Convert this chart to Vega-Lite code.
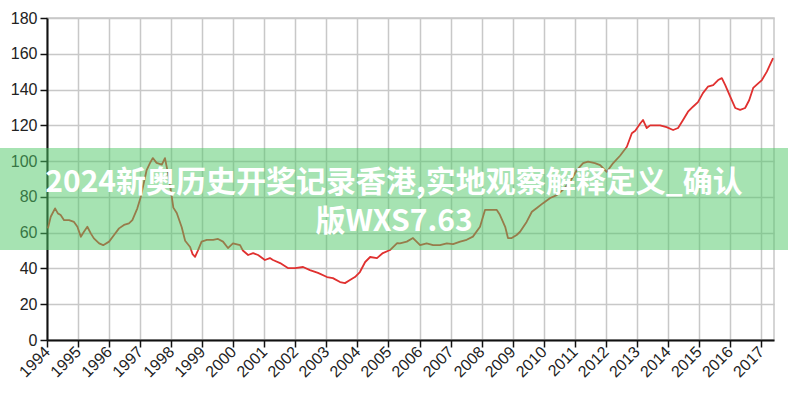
{
  "$schema": "https://vega.github.io/schema/vega-lite/v6.json",
  "width": 727,
  "height": 322,
  "autosize": {"type": "none"},
  "padding": {"left": 47, "top": 18, "right": 14, "bottom": 60},
  "background": "white",
  "config": {
    "view": {"stroke": "#c8c8c8", "strokeWidth": 1.5},
    "font": "Liberation Sans",
    "axis": {
      "gridColor": "#c8c8c8",
      "gridWidth": 1.5,
      "domainColor": "#111",
      "domainWidth": 2,
      "tickColor": "#111",
      "tickWidth": 1.5,
      "tickSize": 7,
      "labelColor": "#222",
      "labelFontSize": 15,
      "title": null
    }
  },
  "datasets": {
    "ccl": [
      {"t": 1994.03, "v": 62.4}, {"t": 1994.12, "v": 68.9}, {"t": 1994.26, "v": 73.6}, {"t": 1994.35, "v": 70.8},
      {"t": 1994.44, "v": 69.9}, {"t": 1994.55, "v": 67}, {"t": 1994.71, "v": 67}, {"t": 1994.87, "v": 66},
      {"t": 1994.98, "v": 63.3}, {"t": 1995.09, "v": 57.7}, {"t": 1995.19, "v": 60.5}, {"t": 1995.30, "v": 63.3},
      {"t": 1995.41, "v": 59.6}, {"t": 1995.51, "v": 56.8}, {"t": 1995.68, "v": 54}, {"t": 1995.81, "v": 53},
      {"t": 1996.00, "v": 55}, {"t": 1996.16, "v": 58.7}, {"t": 1996.32, "v": 62.4}, {"t": 1996.48, "v": 64.3},
      {"t": 1996.64, "v": 65.2}, {"t": 1996.75, "v": 67}, {"t": 1996.91, "v": 73.6}, {"t": 1997.02, "v": 80},
      {"t": 1997.21, "v": 95}, {"t": 1997.32, "v": 99}, {"t": 1997.41, "v": 101.7}, {"t": 1997.53, "v": 99},
      {"t": 1997.70, "v": 98}, {"t": 1997.80, "v": 101.7}, {"t": 1997.90, "v": 93}, {"t": 1998.02, "v": 80},
      {"t": 1998.07, "v": 74}, {"t": 1998.18, "v": 71}, {"t": 1998.34, "v": 63}, {"t": 1998.45, "v": 55.5},
      {"t": 1998.61, "v": 52}, {"t": 1998.69, "v": 48}, {"t": 1998.77, "v": 46.5}, {"t": 1998.86, "v": 50},
      {"t": 1998.98, "v": 55}, {"t": 1999.15, "v": 56}, {"t": 1999.35, "v": 56}, {"t": 1999.51, "v": 56.5},
      {"t": 1999.67, "v": 55}, {"t": 1999.83, "v": 51.4}, {"t": 1999.99, "v": 54}, {"t": 2000.22, "v": 53},
      {"t": 2000.31, "v": 50}, {"t": 2000.48, "v": 47.5}, {"t": 2000.64, "v": 48.6}, {"t": 2000.80, "v": 47.5},
      {"t": 2001.02, "v": 44.7}, {"t": 2001.18, "v": 45.8}, {"t": 2001.28, "v": 44.7}, {"t": 2001.51, "v": 43},
      {"t": 2001.76, "v": 40.2}, {"t": 2001.99, "v": 40.2}, {"t": 2002.25, "v": 40.8}, {"t": 2002.47, "v": 39.1},
      {"t": 2002.73, "v": 37.5}, {"t": 2003.02, "v": 35.2}, {"t": 2003.21, "v": 34.6}, {"t": 2003.44, "v": 32.4},
      {"t": 2003.60, "v": 31.8}, {"t": 2003.76, "v": 33.5}, {"t": 2003.92, "v": 35.2}, {"t": 2004.08, "v": 38},
      {"t": 2004.25, "v": 43.6}, {"t": 2004.41, "v": 46.4}, {"t": 2004.63, "v": 45.8}, {"t": 2004.82, "v": 48.6},
      {"t": 2005.05, "v": 50.3}, {"t": 2005.28, "v": 54.2}, {"t": 2005.37, "v": 54}, {"t": 2005.59, "v": 55},
      {"t": 2005.79, "v": 57}, {"t": 2006.02, "v": 53}, {"t": 2006.23, "v": 54}, {"t": 2006.44, "v": 53},
      {"t": 2006.66, "v": 53}, {"t": 2006.88, "v": 54}, {"t": 2007.08, "v": 53.6}, {"t": 2007.31, "v": 55},
      {"t": 2007.52, "v": 56}, {"t": 2007.72, "v": 57.8}, {"t": 2007.95, "v": 63.3}, {"t": 2008.11, "v": 72.7},
      {"t": 2008.27, "v": 72.7}, {"t": 2008.49, "v": 72.7}, {"t": 2008.59, "v": 70}, {"t": 2008.76, "v": 63.3},
      {"t": 2008.85, "v": 57}, {"t": 2008.97, "v": 57}, {"t": 2009.13, "v": 58.7}, {"t": 2009.24, "v": 60.5},
      {"t": 2009.45, "v": 66}, {"t": 2009.62, "v": 71.7}, {"t": 2009.78, "v": 73.8}, {"t": 2009.98, "v": 76.5},
      {"t": 2010.21, "v": 79.4}, {"t": 2010.42, "v": 81}, {"t": 2010.62, "v": 84}, {"t": 2010.85, "v": 88.5},
      {"t": 2011.07, "v": 95}, {"t": 2011.27, "v": 98.9}, {"t": 2011.43, "v": 99.7}, {"t": 2011.65, "v": 98.9},
      {"t": 2011.82, "v": 97.8}, {"t": 2012.03, "v": 94}, {"t": 2012.24, "v": 98.9}, {"t": 2012.46, "v": 103},
      {"t": 2012.68, "v": 108}, {"t": 2012.84, "v": 115.6}, {"t": 2012.95, "v": 117}, {"t": 2013.11, "v": 121},
      {"t": 2013.20, "v": 123}, {"t": 2013.32, "v": 118.5}, {"t": 2013.43, "v": 120}, {"t": 2013.59, "v": 120},
      {"t": 2013.75, "v": 120}, {"t": 2013.96, "v": 119}, {"t": 2014.17, "v": 117.4}, {"t": 2014.33, "v": 118.5},
      {"t": 2014.49, "v": 123}, {"t": 2014.65, "v": 127.6}, {"t": 2014.81, "v": 130.4}, {"t": 2014.97, "v": 133},
      {"t": 2015.13, "v": 138}, {"t": 2015.29, "v": 141.6}, {"t": 2015.46, "v": 142.5}, {"t": 2015.62, "v": 145.3},
      {"t": 2015.74, "v": 146.4}, {"t": 2015.85, "v": 142.5}, {"t": 2016.01, "v": 136}, {"t": 2016.17, "v": 129.7},
      {"t": 2016.33, "v": 128.6}, {"t": 2016.49, "v": 129.7}, {"t": 2016.62, "v": 134}, {"t": 2016.75, "v": 140.9},
      {"t": 2016.92, "v": 143.6}, {"t": 2017.03, "v": 145.3}, {"t": 2017.19, "v": 150}, {"t": 2017.39, "v": 157.6}
    ],
    "banner": [
      {"x0": 1992.45, "x1": 2017.9, "y0": 107.3, "y1": 50.3, "xc": 2005.18, "yc": 87.8}
    ]
  },
  "layer": [
    {
      "data": {"name": "ccl"},
      "mark": {"type": "line", "color": "#e0302f", "strokeWidth": 1.8, "strokeJoin": "round"},
      "encoding": {
        "x": {
          "field": "t", "type": "quantitative",
          "scale": {"domain": [1994, 2017.42], "nice": false, "zero": false},
          "axis": {
            "values": [1994,1995,1996,1997,1998,1999,2000,2001,2002,2003,2004,2005,2006,2007,2008,2009,2010,2011,2012,2013,2014,2015,2016,2017],
            "tickCount": 24,
            "format": "d", "labelAngle": -45, "labelAlign": "right", "labelBaseline": "middle",
            "labelFontSize": 16,
            "labelPadding": 2, "labelFlush": false, "labelOverlap": false
          }
        },
        "y": {
          "field": "v", "type": "quantitative",
          "scale": {"domain": [0, 180], "nice": false},
          "axis": {"values": [0,20,40,60,80,100,120,140,160,180], "tickCount": 10, "labelOverlap": false, "labelPadding": 3, "labelFontSize": 16}
        }
      }
    },
    {
      "data": {"name": "banner"},
      "mark": {"type": "rect", "fill": "#4dc866", "opacity": 0.5, "clip": false},
      "encoding": {
        "x": {"field": "x0", "type": "quantitative"},
        "x2": {"field": "x1"},
        "y": {"field": "y0", "type": "quantitative"},
        "y2": {"field": "y1"}
      }
    },
    {
      "data": {"name": "banner"},
      "mark": {
        "type": "text",
        "text": ["2024新奥历史开奖记录香港,实地观察解释定义_确认", "版WXS7.63"],
        "font": "Noto Sans CJK SC",
        "fontWeight": "bold",
        "fontSize": 30,
        "lineHeight": 39,
        "color": "white",
        "align": "center",
        "baseline": "middle",
        "clip": false
      },
      "encoding": {
        "x": {"field": "xc", "type": "quantitative"},
        "y": {"field": "yc", "type": "quantitative"}
      }
    }
  ]
}
